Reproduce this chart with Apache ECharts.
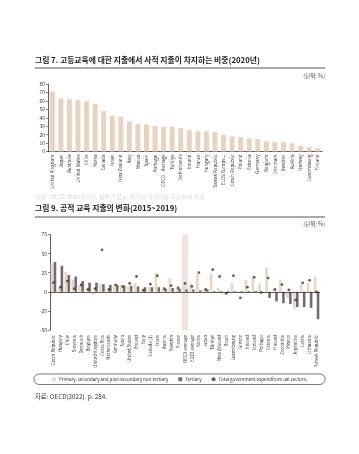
<!DOCTYPE html>
<html><head><meta charset="utf-8">
<script src="https://cdn.jsdelivr.net/npm/echarts@6/dist/echarts.min.js"></script>
<style>html,body{margin:0;padding:0;background:#fff}#c{width:359px;height:454px}</style>
</head><body><div id="c"></div>
<script>
// Figure 7 data
const cat1 = ['United Kingdom','Japan','Australia','United States','Chile','Korea','Canada','Israel','New Zealand','Italy','Mexico','Spain','Portugal','OECD - Average','Türkiye','Netherlands','Ireland','France','Hungary','Slovak Republic','EU25 Europe...','Czech Republic','Poland','Estonia','Germany','Belgium','Denmark','Sweden','Austria','Norway','Luxembourg','Finland'];
const val1 = [71,63,62.5,61,59.7,56.5,48,42.5,41.3,35.8,33,32,30.2,29.4,29.4,27.8,25.4,24.2,23.9,23,19.5,17.9,17.1,15.5,14.7,12.3,11.1,11.1,9.9,6.7,5.1,3.9];
const ticks1 = [0,10,20,30,40,50,60,70,80];

// Figure 9 data
const cat2 = ['Czech Republic','Hungary','Chile','Slovenia','Denmark','Belgium','United Kingdom','Costa Rica','Netherlands','Germany','Spain','United States','Poland','Italy','Canada (1)','Israel','Austria','Sweden','France','OECD average','EU22 average','Korea','Japan','Türkiye','New Zealand','Brazil','Luxembourg','Greece','Ireland','Iceland','Portugal','Estonia','Finland','Colombia','Mexico','Argentina','Latvia','Lithuania','Slovak Republic'];
const primary = [37,5,26,16,9,5,-4,10,3,8,8,7,12,3,6,24,3,18,4,7,11,23,4,24,5,-4,12,-1,15.5,21,11,32,3,15.5,-8,-22,10,12,20];
const tertiary = [39,34,22,20,14,12,12,10,9,9,8,8,7,6,6,6,4,5,4,3,3,2,3,1,1,1,1,1,1,1,-1,-8,-12.5,-15,-16,-20,-20,-21,-36];
const total = [12,6,14,4,9,3,4,55,3,9,7,11,20,2,10,21,4,8,5,11,7,25,3,29,20,-2,21,-8,6,19,-1,18,3,9.5,2.5,-11,11.7,15,0];
const ticks2 = [-50,-25,0,25,50,75];
const highlight = ['OECD average'];
const seriesNames = ['Primary, secondary and post-secondary non-tertiary','Tertiary','Total government expenditure (all sectors)'];

const F = "'Noto Sans CJK KR','Noto Sans',sans-serif";
const chart = echarts.init(document.getElementById('c'), null, {renderer:'canvas'});
const tMin2 = ticks2[0], tMax2 = ticks2[ticks2.length-1];
chart.setOption({
  animation:false,
  textStyle:{fontFamily:F},
  title:[
    {text:'그림 7. 고등교육에 대한 지출에서 사적 지출이 차지하는 비중(2020년)',left:35,top:56.5,padding:0,textStyle:{fontSize:7.8,fontWeight:'bold',color:'#222',fontFamily:F}},
    {text:'(단위: %)',right:34,top:73,padding:0,textStyle:{fontSize:5.5,fontWeight:'normal',color:'#444',fontFamily:F}},
    {text:'자료: OECD.Stat 데이터, 일부가 없는 국가의 데이터를 추출하여 작성',left:35,top:194,padding:0,textStyle:{fontSize:6,fontWeight:'normal',color:'#d8d8d8',fontFamily:F}},
    {text:'그림 9. 공적 교육 지출의 변화(2015~2019)',left:35,top:204.5,padding:0,textStyle:{fontSize:7.8,fontWeight:'bold',color:'#222',fontFamily:F}},
    {text:'(단위: %)',right:34,top:221,padding:0,textStyle:{fontSize:5.5,fontWeight:'normal',color:'#444',fontFamily:F}},
    {text:'자료: OECD(2022). p. 284.',left:35,top:393,padding:0,textStyle:{fontSize:6.3,fontWeight:'normal',color:'#333',fontFamily:F}}
  ],
  graphic:[
    {type:'line',shape:{x1:35,y1:68,x2:325,y2:68},style:{stroke:'#8c8c8c',lineWidth:1.5}},
    {type:'line',shape:{x1:35,y1:217,x2:325,y2:217},style:{stroke:'#8c8c8c',lineWidth:1.5}}
  ],
  legend:{
    data:seriesNames,
    left:'center',top:374,
    orient:'horizontal',
    itemWidth:4,itemHeight:4,itemGap:10,
    padding:[3,18],
    borderColor:'#555',borderWidth:0.8,borderRadius:8,
    textStyle:{fontSize:4.5,color:'#333',fontFamily:F,padding:[0,0,0,-2]}
  },
  grid:[
    {left:48,top:84,width:274,height:67.5,containLabel:false},
    {left:50,top:234.5,width:270,height:95.5,containLabel:false}
  ],
  xAxis:[
    {gridIndex:0,type:'category',data:cat1,
     axisLine:{lineStyle:{color:'#333',width:0.8}},axisTick:{show:false},
     axisLabel:{rotate:90,fontSize:4.5,color:'#333',margin:3,interval:0}},
    {gridIndex:1,type:'category',data:cat2,
     axisLine:{show:false,onZero:false},axisTick:{show:false},
     axisLabel:{rotate:90,fontSize:4.3,color:'#333',margin:5,interval:0}},
    {gridIndex:1,type:'category',data:cat2,show:false}
  ],
  yAxis:[
    {gridIndex:0,type:'value',min:ticks1[0],max:ticks1[ticks1.length-1],interval:10,
     splitLine:{show:false},
     axisLine:{show:true,lineStyle:{color:'#333',width:0.8}},
     axisTick:{show:true,length:2,lineStyle:{color:'#333',width:0.6}},
     axisLabel:{fontSize:5,color:'#333',margin:3}},
    {gridIndex:1,type:'value',min:tMin2,max:tMax2,interval:25,
     splitLine:{show:false},
     axisLine:{show:true,lineStyle:{color:'#333',width:0.8}},
     axisTick:{show:true,length:2,lineStyle:{color:'#333',width:0.6}},
     axisLabel:{fontSize:5,color:'#333',margin:3}}
  ],
  series:[
    {type:'bar',xAxisIndex:0,yAxisIndex:0,data:val1,barWidth:5,itemStyle:{color:'#e8d3c1'}},
    {type:'bar',xAxisIndex:2,yAxisIndex:1,stack:'band',z:1,silent:true,barWidth:6,
     data:cat2.map(c=>highlight.includes(c)?tMax2:'-'),itemStyle:{color:'#f0e3de'}},
    {type:'bar',xAxisIndex:2,yAxisIndex:1,stack:'band',z:1,silent:true,barWidth:6,
     data:cat2.map(c=>highlight.includes(c)?tMin2:'-'),itemStyle:{color:'#f0e3de'}},
    {name:seriesNames[0],type:'bar',xAxisIndex:1,yAxisIndex:1,data:primary,barWidth:2.6,barGap:'15%',z:3,
     itemStyle:{color:'#e8d6c6'},
     markLine:{silent:true,symbol:'none',label:{show:false},lineStyle:{color:'#333',width:0.8,type:'solid'},data:[{yAxis:0}]}},
    {name:seriesNames[1],type:'bar',xAxisIndex:1,yAxisIndex:1,data:tertiary,barWidth:2.6,barGap:'15%',z:3,
     itemStyle:{color:'#6f6f6f'}},
    {name:seriesNames[2],type:'scatter',xAxisIndex:1,yAxisIndex:1,data:total,symbolSize:2.8,z:5,
     itemStyle:{color:'#4a3424'}}
  ]
});
</script></body></html>
